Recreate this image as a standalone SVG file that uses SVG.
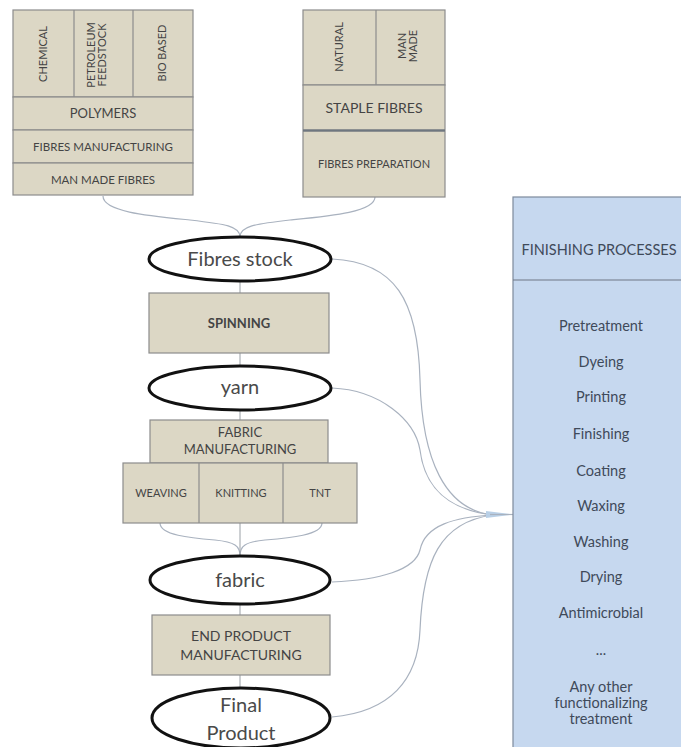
<svg xmlns="http://www.w3.org/2000/svg" width="681" height="747" viewBox="0 0 681 747">
<style>
.box{fill:#dcd7c5;stroke:#8c8c8c;stroke-width:1.2}
.ell{fill:#fff;stroke:#111;stroke-width:3}
.t{font-family:Lato,"Liberation Sans",sans-serif;fill:#444;text-anchor:middle}
.s{font-size:11px}
.m{font-size:11.5px}
.big{font-family:Lato,"Liberation Sans",sans-serif;fill:#4a4a4a;text-anchor:middle;font-size:20px}
.fp{font-family:Lato,"Liberation Sans",sans-serif;fill:#3f4a5a;text-anchor:middle;font-size:14.5px}
.c{fill:none;stroke:#a9b2bf;stroke-width:1.2}
.v{fill:none;stroke:#9aa0a6;stroke-width:1}
</style>
<g id="connectors">
<path class="c" d="M103,196 C103,212 150,216 190,220 C225,224 240,226 240,237"/>
<path class="c" d="M375,197 C375,212 330,216 290,220 C255,224 240,226 240,237"/>
<line class="v" x1="240" y1="281" x2="240" y2="293"/>
<line class="v" x1="240" y1="353" x2="240" y2="366"/>
<line class="v" x1="240" y1="410" x2="240" y2="420"/>
<path class="c" d="M160,523 C160,535 190,538 215,540 C235,542 240,546 240,556"/>
<path class="c" d="M322,523 C322,535 290,538 265,540 C245,542 240,546 240,556"/>
<line class="v" x1="240" y1="523" x2="240" y2="556"/>
<line class="v" x1="240" y1="604" x2="240" y2="615"/>
<line class="v" x1="240" y1="675" x2="240" y2="688"/>
<path class="c" d="M332,259 C395,262 418,300 420,380 C422,460 445,510 493,515"/>
<path class="c" d="M332,388 C380,390 415,420 420,450 C425,490 450,510 493,515"/>
<path class="c" d="M332,582 C380,580 415,570 420,550 C425,525 455,517 493,515"/>
<path class="c" d="M332,717 C390,712 418,680 420,630 C423,560 440,522 493,515"/>
<path d="M486,511 L513,514.5 L486,518 Z" fill="#b8cfe6"/>
<line class="c" x1="490" y1="514.5" x2="513" y2="514.5"/>
</g>
<g id="polymers-block">
<rect class="box" x="13" y="10" width="180" height="87"/>
<line class="box" x1="74" y1="10" x2="74" y2="97"/>
<line class="box" x1="133" y1="10" x2="133" y2="97"/>
<text class="t s" transform="translate(47,54) rotate(-90)">CHEMICAL</text>
<text class="t s" transform="translate(95,55) rotate(-90)"><tspan x="0" y="0">PETROLEUM</tspan><tspan x="0" y="11">FEEDSTOCK</tspan></text>
<text class="t s" transform="translate(166,53) rotate(-90)">BIO BASED</text>
<rect class="box" x="13" y="97" width="180" height="33"/>
<text class="t" x="103" y="118" font-size="13">POLYMERS</text>
<rect class="box" x="13" y="130" width="180" height="33"/>
<text class="t m" x="103" y="151">FIBRES MANUFACTURING</text>
<rect class="box" x="13" y="163" width="180" height="32"/>
<text class="t m" x="103" y="184">MAN MADE FIBRES</text>
</g>
<g id="staple-block">
<rect class="box" x="303" y="10" width="142" height="75"/>
<line class="box" x1="376" y1="10" x2="376" y2="85"/>
<text class="t s" transform="translate(343,47) rotate(-90)">NATURAL</text>
<text class="t s" transform="translate(406,46) rotate(-90)"><tspan x="0" y="0">MAN</tspan><tspan x="0" y="11">MADE</tspan></text>
<rect class="box" x="303" y="85" width="142" height="45"/>
<text class="t" x="374" y="113" font-size="14">STAPLE FIBRES</text>
<rect class="box" x="303" y="131" width="142" height="66"/>
<line x1="303" y1="130.5" x2="445" y2="130.5" stroke="#6f7780" stroke-width="2"/>
<text class="t" x="374" y="168" font-size="11">FIBRES PREPARATION</text>
</g>
<g id="fibres-stock">
<ellipse class="ell" cx="240" cy="259" rx="91" ry="22"/>
<text class="big" x="240" y="266">Fibres stock</text>
</g>
<g id="spinning">
<rect class="box" x="149" y="293" width="180" height="60"/>
<text class="t" x="239" y="328" font-size="13" font-weight="bold" fill="#555">SPINNING</text>
</g>
<g id="yarn">
<ellipse class="ell" cx="240" cy="388" rx="91" ry="22"/>
<text class="big" x="240" y="394">yarn</text>
</g>
<g id="fabric-manufacturing">
<rect class="box" x="150" y="420" width="178" height="43"/>
<text class="t" x="240" y="437" font-size="13">FABRIC</text>
<text class="t" x="240" y="454" font-size="13">MANUFACTURING</text>
<rect class="box" x="123" y="463" width="234" height="60"/>
<line class="box" x1="199" y1="463" x2="199" y2="523"/>
<line class="box" x1="283" y1="463" x2="283" y2="523"/>
<text class="t" x="161" y="497" font-size="11">WEAVING</text>
<text class="t" x="241" y="497" font-size="11">KNITTING</text>
<text class="t" x="320" y="497" font-size="11">TNT</text>
</g>
<g id="fabric">
<ellipse class="ell" cx="240" cy="580" rx="90" ry="24"/>
<text class="big" x="240" y="587">fabric</text>
</g>
<g id="end-product">
<rect class="box" x="152" y="615" width="178" height="60"/>
<text class="t" x="241" y="641" font-size="14">END PRODUCT</text>
<text class="t" x="241" y="660" font-size="14">MANUFACTURING</text>
</g>
<g id="final-product">
<ellipse class="ell" cx="241" cy="718" rx="89" ry="30"/>
<text class="big" x="241" y="712">Final</text>
<text class="big" x="241" y="740">Product</text>
</g>
<g id="finishing-processes">
<rect x="513" y="197" width="172" height="555" fill="#c6d8ef" stroke="#7d8a9c" stroke-width="1.2"/>
<line x1="513" y1="280" x2="681" y2="280" stroke="#6e7786" stroke-width="1.2"/>
<text class="fp" x="599" y="255" font-size="14.5">FINISHING PROCESSES</text>
<text class="fp" x="601" y="331">Pretreatment</text>
<text class="fp" x="601" y="367">Dyeing</text>
<text class="fp" x="601" y="402">Printing</text>
<text class="fp" x="601" y="439">Finishing</text>
<text class="fp" x="601" y="476">Coating</text>
<text class="fp" x="601" y="511">Waxing</text>
<text class="fp" x="601" y="547">Washing</text>
<text class="fp" x="601" y="582">Drying</text>
<text class="fp" x="601" y="618">Antimicrobial</text>
<text class="fp" x="601" y="655">...</text>
<text class="fp" x="601" y="692">Any other</text>
<text class="fp" x="601" y="708">functionalizing</text>
<text class="fp" x="601" y="724">treatment</text>
</g>
</svg>
